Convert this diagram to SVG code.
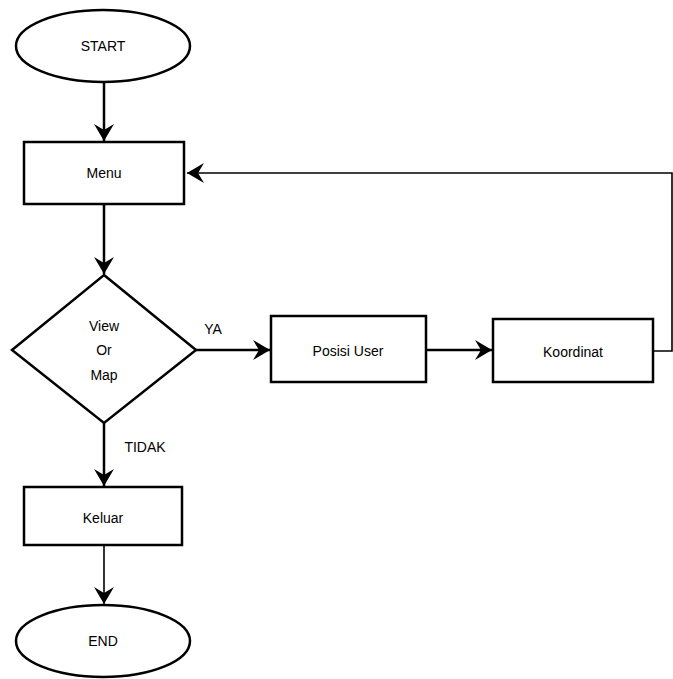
<svg xmlns="http://www.w3.org/2000/svg" width="673" height="679" viewBox="0 0 673 679">
<style>
.shape{fill:#fff;stroke:#000;stroke-width:2.5}
.t{font-family:"Liberation Sans",Arial,sans-serif;font-size:14px;fill:#000;text-anchor:middle;dominant-baseline:central}
.c{fill:none;stroke:#000;stroke-width:2.5}
.thin{stroke-width:1.6}
</style>
<defs>
<marker id="ah" markerUnits="userSpaceOnUse" markerWidth="24" markerHeight="24" viewBox="-20 -12 24 24" refX="0" refY="0" orient="auto">
<path d="M-17,-10 L0,0 L-17,10 L-11,0 z" fill="#000"/>
</marker>
</defs>
<rect width="673" height="679" fill="#fff"/>
<g id="connectors">
<line class="c" x1="104" y1="82" x2="104" y2="141" marker-end="url(#ah)"/>
<line class="c" x1="104" y1="204" x2="104" y2="274" marker-end="url(#ah)"/>
<line class="c" x1="196" y1="350" x2="270" y2="350" marker-end="url(#ah)"/>
<line class="c" x1="426" y1="350" x2="492" y2="350" marker-end="url(#ah)"/>
<polyline class="c thin" points="653,351 672,351 672,173 187,173" marker-end="url(#ah)"/>
<line class="c" x1="104" y1="423" x2="104" y2="486" marker-end="url(#ah)"/>
<line class="c thin" x1="104" y1="545" x2="104" y2="604" marker-end="url(#ah)"/>
<text class="t" x="213" y="329">YA</text>
<text class="t" x="145" y="447">TIDAK</text>
</g>
<g id="start">
<ellipse class="shape" cx="103" cy="46" rx="87" ry="36"/>
<text class="t" x="103" y="46">START</text>
</g>
<g id="menu">
<rect class="shape" x="24" y="142" width="160" height="62"/>
<text class="t" x="104" y="173">Menu</text>
</g>
<g id="viewmap">
<polygon class="shape" points="104,275 196,350 104,423 12,350"/>
<text class="t" x="104" y="326">View</text>
<text class="t" x="104" y="350">Or</text>
<text class="t" x="104" y="375">Map</text>
</g>
<g id="posisi">
<rect class="shape" x="271" y="316" width="155" height="66"/>
<text class="t" x="348" y="351">Posisi User</text>
</g>
<g id="koordinat">
<rect class="shape" x="493" y="319" width="160" height="63"/>
<text class="t" x="573" y="352">Koordinat</text>
</g>
<g id="keluar">
<rect class="shape" x="24" y="487" width="158" height="58"/>
<text class="t" x="103" y="518">Keluar</text>
</g>
<g id="end">
<ellipse class="shape" cx="103" cy="641" rx="87" ry="36"/>
<text class="t" x="103" y="641">END</text>
</g>
</svg>
